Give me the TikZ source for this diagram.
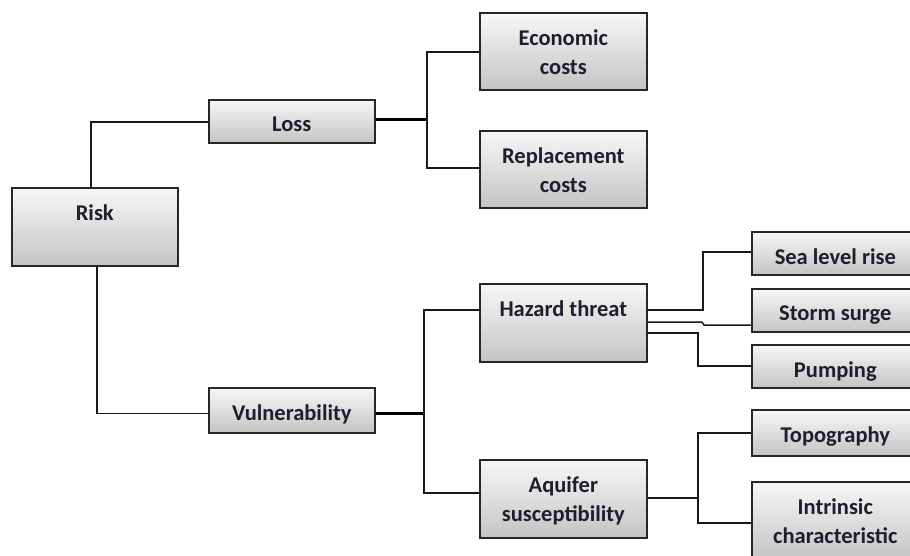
\documentclass[tikz,border=0pt]{standalone}
\usepackage{fontspec}
\setmainfont{Carlito}
\usetikzlibrary{calc}
\definecolor{boxtop}{HTML}{F7F7F7}
\definecolor{boxbot}{HTML}{C4C4C4}
\definecolor{ink}{HTML}{1E1E2E}
\tikzset{
  box/.style={draw=black!85, line width=1.6pt, top color=boxtop, bottom color=boxbot,
    rectangle, inner sep=0pt, anchor=north west},
  lbl/.style={text=ink, font=\bfseries\fontsize{22.5}{29}\selectfont,
    align=center, inner sep=0pt},
  link/.style={draw=black!90, line width=1.5pt},
  trunk/.style={draw=black, line width=3pt},
}
% box with its label set near the top edge
\newcommand{\boxat}[6]{% name, x, y, width, height, text
  \node[box, minimum width=#4pt, minimum height=#5pt] (#1) at (#2,#3) {};
  \node[lbl, anchor=north] (#1-t) at ($(#1.north)+(0,18)$) {#6};
}
\begin{document}
\begin{tikzpicture}[x=1pt, y=-1pt]
\useasboundingbox (0,0) rectangle (910,555);
\clip (0,0) rectangle (910,555);

% boxes
\boxat{risk}{11}{187}{166}{78}{Risk}
\boxat{loss}{208}{99}{166}{43}{Loss}
\boxat{vuln}{208}{387}{166}{45}{Vulnerability}
\boxat{econ}{479}{12}{167}{77}{Economic\\costs}
\boxat{repl}{479}{130}{167}{77}{Replacement\\costs}
\boxat{haz}{479}{283}{167}{78}{Hazard threat}
\boxat{aqu}{479}{459}{167}{78}{Aquifer\\susceptibility}
\boxat{sea}{751}{231}{167}{43}{Sea level rise}
\boxat{storm}{751}{288}{167}{43}{Storm surge}
\boxat{pump}{751}{344}{167}{43}{Pumping}
\boxat{topo}{751}{409}{167}{46}{Topography}
\boxat{intr}{751}{481}{167}{78}{Intrinsic\\characteristic}

% junction points
\coordinate (j1) at (427,119);
\coordinate (j2) at (424,413);
\coordinate (hz1) at (703,310);
\coordinate (hz3) at (698,333);
\coordinate (aj) at (698,498);

% Risk branches
\draw[link] ($(risk.north)+(-4,0)$) |- ($(loss.west)+(0,0.5)$);
\draw[link] ($(risk.south)+(2,0)$) |- ($(vuln.west)+(0,3)$);

% Loss branch
\draw[trunk] (loss.east |- j1) -- (j1);
\draw[link] (econ.west |- 0,52) -| (j1) |- (repl.west |- 0,168);

% Vulnerability branch
\draw[trunk] (vuln.east |- j2) -- (j2);
\draw[link] (haz.west |- 0,310) -| (j2) |- (aqu.west |- 0,493);

% Hazard threat branches
\draw[link] (haz.east |- hz1) -| (703,252) -- (sea.west |- 0,252);
\draw[link] (haz.east |- 0,322) -- (702,322) -- (704,325) -- (storm.west |- 0,325);
\draw[link] (haz.east |- hz3) -| (698,366) -- (pump.west |- 0,366);

% Aquifer susceptibility branches
\draw[link] (aqu.east |- aj) -- (aj);
\draw[link] (topo.west |- 0,433) -| (aj) |- (intr.west |- 0,523);
\end{tikzpicture}
\end{document}
